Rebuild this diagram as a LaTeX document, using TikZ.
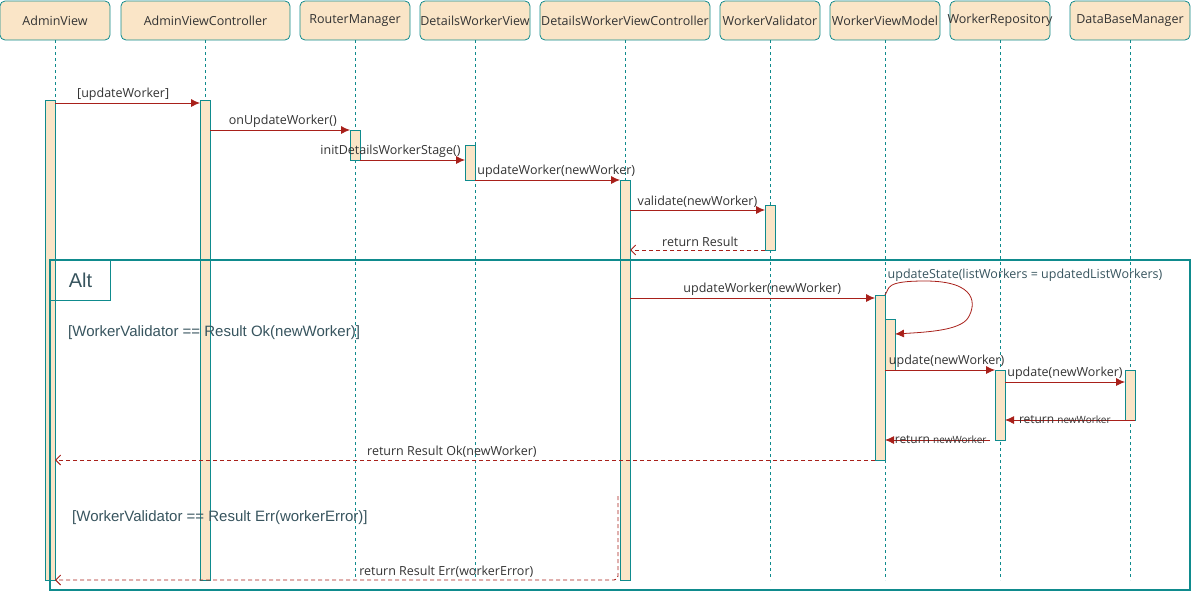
\documentclass[tikz,border=0pt]{standalone}
\usepackage{fontspec}
\setmainfont{Open Sans}
\newfontfamily\guardfont{Liberation Sans}
\usepackage{tikz}
\usetikzlibrary{arrows.meta,positioning}
\definecolor{SeqTeal}{HTML}{0F8B8D}
\definecolor{SeqSand}{HTML}{FAE5C7}
\definecolor{SeqRed}{HTML}{A8201A}
\definecolor{SeqInk}{HTML}{143642}
\definecolor{SeqText}{HTML}{333333}

\begin{document}
\begin{tikzpicture}[
  x=1pt,y=-1pt,
  head/.style={draw=SeqTeal,fill=SeqSand,rounded corners=5pt,minimum height=39pt,inner xsep=-40pt,inner ysep=0pt,outer sep=0pt,
    line width=0.8pt,text=SeqText,font=\fontsize{12.5}{14}\selectfont},
  bar/.style={draw=SeqTeal,fill=SeqSand,minimum width=10pt,inner sep=0pt,outer sep=0pt,anchor=north,line width=0.8pt},
  lifeline/.style={draw=SeqTeal,dash pattern=on 3pt off 3pt,line width=0.7pt},
  msg/.style={draw=SeqRed,line width=0.8pt,-{Latex[length=9pt,width=8pt]}},
  ret/.style={draw=SeqRed,line width=0.9pt,dash pattern=on 4pt off 3pt,-{Straight Barb[length=5pt,width=10pt]}},
  lbl/.style={above,inner sep=2.5pt,text=SeqText,font=\fontsize{12.5}{14}\selectfont},
  guard/.style={anchor=west,inner sep=0pt,text=SeqInk!85,font=\guardfont\fontsize{15}{17}\selectfont},
  frame/.style={draw=SeqTeal,line width=1.5pt},
]
\useasboundingbox (0,0) rectangle (1192,592);

% participants
\node[head,minimum width=110pt] (av) at (55,20.5) {AdminView};
\node[head,minimum width=169pt,right=11pt of av] (avc) {AdminViewController};
\node[head,minimum width=110pt,right=10pt of avc] (rm) {RouterManager};
\node[head,minimum width=110pt,right=10pt of rm] (dwv) {DetailsWorkerView};
\node[head,minimum width=170pt,right=10pt of dwv] (dwvc) {DetailsWorkerViewController};
\node[head,minimum width=100pt,right=10pt of dwvc] (wv) {WorkerValidator};
\node[head,minimum width=110pt,right=10pt of wv] (wvm) {WorkerViewModel};
\node[head,minimum width=100pt,right=10pt of wvm] (wr) {WorkerRepository};
\node[head,minimum width=120pt,right=20pt of wr] (dbm) {DataBaseManager};

% lifelines
\draw[lifeline] (av.south) -- ++(0,540);
\draw[lifeline] (avc.south) -- ++(0,540);
\draw[lifeline] (rm.south) -- ++(0,540);
\draw[lifeline] (dwv.south) -- ++(0,540);
\draw[lifeline] (dwvc.south) -- ++(0,540);
\draw[lifeline] (wv.south) -- ++(0,540);
\draw[lifeline] (wvm.south) -- ++(0,540);
\draw[lifeline] (wr.south) -- ++(0,540);
\draw[lifeline] (dbm.south) -- ++(0,540);

% activations
\node[bar,minimum height=480pt] (av1) at (50,100) {};
\node[bar,minimum height=480pt] (avc1) at (205,100) {};
\node[bar,minimum height=30pt] (rm1) at (355,130) {};
\node[bar,minimum height=35pt] (dwv1) at (470,145) {};
\node[bar,minimum height=400pt] (dwvc1) at (625,180) {};
\node[bar,minimum height=45pt] (wv1) at (770,205) {};
\node[bar,minimum height=165pt] (wvm1) at (880,295) {};
\node[bar,minimum height=51pt] (wvm2) at (890,319) {};
\node[bar,minimum height=70pt] (wr1) at (1000,370) {};
\node[bar,minimum height=50pt] (dbm1) at (1130,370) {};

% alt fragment
\draw[frame] (50,260) rectangle (1190,590);
\node[draw=SeqTeal,line width=1pt,anchor=north west,minimum width=60pt,minimum height=40pt,inner sep=0pt,
  text=SeqInk!85,font=\guardfont\fontsize{20}{22}\selectfont] (alt) at (50,260) {Alt};
\node[guard] (okg) at (68,333) {[WorkerValidator == Result Ok(newWorker)]};
\node[guard] (errg) at (72,518) {[WorkerValidator == Result Err(workerError)]};

% messages
\draw[msg] (av1.east |- 0,103) -- (avc1.west |- 0,103) node[lbl,pos=0.47] {[updateWorker]};
\draw[msg] (avc1.east |- rm1.north) -- (rm1.north west) node[lbl,pos=0.52] {onUpdateWorker()};
\draw[msg] (rm1.south east) -- (dwv1.west |- rm1.south) node[lbl,pos=0.29] {initDetailsWorkerStage()};
\draw[msg] (dwv1.south east) -- (dwvc1.north west) node[lbl,pos=0.56] {updateWorker(newWorker)};
\draw[msg] (dwvc1.east |- 0,210) -- (wv1.west |- 0,210) node[lbl,pos=0.5] {validate(newWorker)};
\draw[ret] (wv1.south west) -- (dwvc1.east |- wv1.south) node[lbl,pos=0.48] {return Result};
\draw[msg] (dwvc1.east |- 0,298) -- (wvm1.west |- 0,298) node[lbl,pos=0.54] {updateWorker(newWorker)};
\draw[msg] (wvm1.north east) .. controls (890,288) and (884,281) .. (925,281)
  .. controls (978,281) and (976,305) .. (968,318) .. controls (960,330) and (930,332) .. (wvm2.east |- 0,334);
\node[text=SeqInk!85,font=\fontsize{12.5}{14}\selectfont] (us) at (1025,275) {updateState(listWorkers = updatedListWorkers)};
\draw[msg] (wvm2.south west) -- (wr1.north west) node[lbl,pos=0.56] {update(newWorker)};
\draw[msg] (wr1.east |- 0,382) -- (dbm1.west |- 0,382) node[lbl,pos=0.5] {update(newWorker)};
\draw[msg] (dbm1.south east) -- (wr1.east |- dbm1.south)
  node[pos=0.54,inner sep=0pt,text=SeqText,font=\fontsize{12}{14}\selectfont] {return {\fontsize{10}{12}\selectfont newWorker}};
\draw[msg] ([xshift=-5pt]wr1.south west) -- (wvm1.east |- wr1.south)
  node[pos=0.47,inner sep=0pt,text=SeqText,font=\fontsize{12}{14}\selectfont] {return {\fontsize{10}{12}\selectfont newWorker}};
\draw[ret] (wvm1.south west) -- (av1.east |- wvm1.south) node[lbl,pos=0.516] {return Result Ok(newWorker)};
\draw[ret,rounded corners=4pt] ([xshift=-2pt,yshift=84pt]dwvc1.south west) -- ([xshift=-2pt]dwvc1.south west)
  -- (av1.east |- dwvc1.south) node[lbl,pos=0.305] {return Result Err(workerError)};
\end{tikzpicture}
\end{document}
